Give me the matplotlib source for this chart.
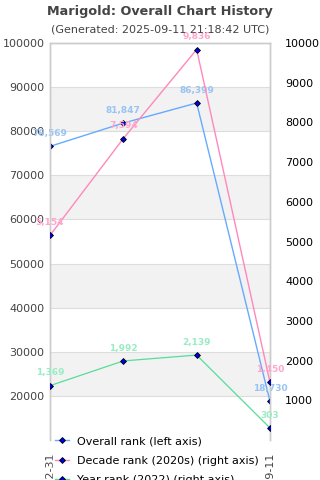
import matplotlib
matplotlib.use("Agg")
import matplotlib.pyplot as plt
from matplotlib.lines import Line2D

dates = ["2022-12-31", "2023-12-31", "2024-12-31", "2025-09-11"]
overall = [76569, 81847, 86399, 18730]
decade = [5154, 7594, 9836, 1450]
year = [1369, 1992, 2139, 303]
left_ticks = [20000, 30000, 40000, 50000, 60000, 70000, 80000, 90000, 100000]
right_ticks = [1000, 2000, 3000, 4000, 5000, 6000, 7000, 8000, 9000, 10000]
bands = [(20000, 30000), (40000, 50000), (60000, 70000), (80000, 90000)]

c_over, c_over_lbl = "#66aaff", "#99c4f2"
c_dec, c_dec_lbl = "#ff88bb", "#ffa6cc"
c_year, c_year_lbl = "#55dd99", "#99ecc4"

fig = plt.figure(figsize=(3.2, 4.8), dpi=100)
ax = fig.add_axes([50/320, 1-440/480, 220/320, 397/480])
ax2 = ax.twinx()

x = list(range(len(dates)))
ax.set_xlim(0, len(dates)-1)
ax.set_ylim(10000, 100000)
ax2.set_ylim(0, 10000)

for lo, hi in bands:
    ax.axhspan(lo, hi, color="#f2f2f2", zorder=0, lw=0)
for t in left_ticks:
    ax.axhline(t, color="#dddddd", lw=0.8, zorder=0.5)

mk = dict(marker="D", markersize=3, markerfacecolor="#0000ee", markeredgecolor="black", markeredgewidth=0.6)
ax.plot(x, overall, color=c_over, lw=1, zorder=3, **mk)
ax2.plot(x, decade, color=c_dec, lw=1, zorder=3, **mk)
ax2.plot(x, year, color=c_year, lw=0.9, zorder=3, **mk)

off = 6
for xi, v in zip(x, overall):
    ax.annotate(f"{v:,}", (xi, v), xytext=(0, off), textcoords="offset points",
                ha="center", va="bottom", fontsize=6.5, fontweight="bold", color=c_over_lbl, zorder=4)
for xi, v in zip(x, decade):
    ax2.annotate(f"{v:,}", (xi, v), xytext=(0, off), textcoords="offset points",
                 ha="center", va="bottom", fontsize=6.5, fontweight="bold", color=c_dec_lbl, zorder=4)
for xi, v in zip(x, year):
    ax2.annotate(f"{v:,}", (xi, v), xytext=(0, off), textcoords="offset points",
                 ha="center", va="bottom", fontsize=6.5, fontweight="bold", color=c_year_lbl, zorder=4)

ax.set_yticks(left_ticks)
ax.set_yticklabels([str(t) for t in left_ticks], color="#444444", fontsize=8)
ax2.set_yticks(right_ticks)
ax2.set_yticklabels([str(t) for t in right_ticks], color="black", fontsize=8)
ax.set_xticks(x)
ax.set_xticklabels(dates, rotation=90, fontsize=8, color="#444444")
ax.tick_params(axis="y", length=0, pad=4)
ax.tick_params(axis="x", length=0, pad=9)
ax2.tick_params(length=0, pad=11)

for a in (ax, ax2):
    for s in a.spines.values():
        s.set_color("#cccccc")
        s.set_linewidth(1)
    a.spines["bottom"].set_visible(False)

fig.text(0.5, 1-11/480, "Marigold: Overall Chart History", ha="center", va="center",
         fontsize=9.2, fontweight="bold", color="#444444")
fig.text(0.5, 1-30/480, "(Generated: 2025-09-11 21:18:42 UTC)", ha="center", va="center",
         fontsize=8, color="#444444")

handles = [
    Line2D([], [], color=c_over, lw=1, **mk),
    Line2D([], [], color=c_dec, lw=1, **mk),
    Line2D([], [], color=c_year, lw=1, **mk),
]
labels = ["Overall rank (left axis)", "Decade rank (2020s) (right axis)", "Year rank (2022) (right axis)"]
leg = fig.legend(handles, labels, loc="upper left", bbox_to_anchor=(53/320, 1-434/480),
                 frameon=True, fontsize=8, handlelength=1.2, handletextpad=0.8,
                 labelspacing=0.85, borderpad=0.2, borderaxespad=0)
leg.get_frame().set_facecolor("white")
leg.get_frame().set_edgecolor("white")
leg.get_frame().set_alpha(1)

fig.savefig("out.png", dpi=100)
